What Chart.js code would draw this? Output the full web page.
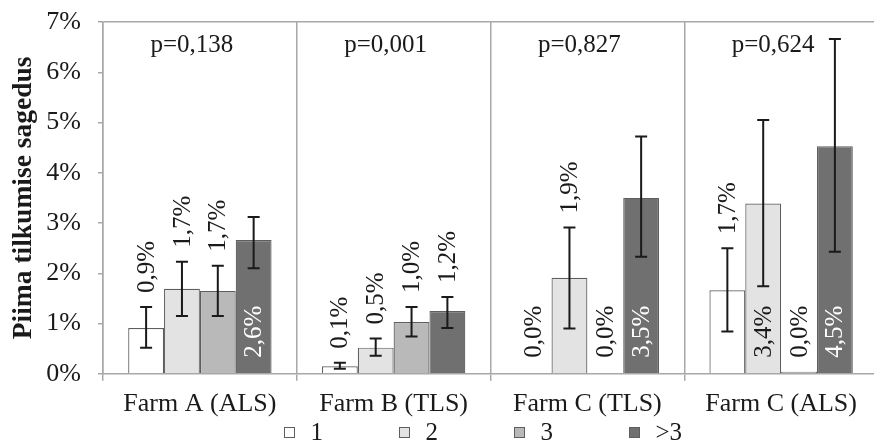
<!DOCTYPE html>
<html>
<head>
<meta charset="utf-8">
<script src="https://cdn.jsdelivr.net/npm/chart.js"></script>
<style>
  html, body { margin: 0; padding: 0; background: #fff; overflow: hidden; }
  #wrap { width: 878px; height: 445px; position: relative; }
</style>
</head>
<body>
<div id="wrap"><canvas id="chart"></canvas></div>
<script>
// Data (values in %)
const categories = ['Farm A (ALS)', 'Farm B (TLS)', 'Farm C (TLS)', 'Farm C (ALS)'];
const seriesNames = ['1', '2', '3', '>3'];
const yTicks = [0, 1, 2, 3, 4, 5, 6, 7];
const pValues = ['p=0,138', 'p=0,001', 'p=0,827', 'p=0,624'];

const vals1 = [0.91, 0.15, 0, 1.66];
const vals2 = [1.69, 0.52, 1.91, 3.39];
const vals3 = [1.65, 1.03, 0, 0.04];
const vals4 = [2.66, 1.25, 3.50, 4.53];

// error bar ends
const low1 = [0.52, 0.10, null, 0.84];
const high1 = [1.33, 0.22, null, 2.50];
const low2 = [1.15, 0.36, 0.90, 1.74];
const high2 = [2.23, 0.70, 2.91, 5.05];
const low3 = [1.15, 0.74, null, null];
const high3 = [2.15, 1.33, null, null];
const low4 = [2.10, 0.91, 2.33, 2.43];
const high4 = [3.12, 1.53, 4.72, 6.66];

// value labels as printed
const labels1 = ['0,9%', '0,1%', '0,0%', '1,7%'];
const labels2 = ['1,7%', '0,5%', '1,9%', '3,4%'];
const labels3 = ['1,7%', '1,0%', '0,0%', '0,0%'];
const labels4 = ['2,6%', '1,2%', '3,5%', '4,5%'];
// where each label sits: above the error bar or inside near the base
const place1 = ['out', 'out', 'in', 'out'];
const place2 = ['out', 'out', 'out', 'in'];
const place3 = ['out', 'out', 'in', 'in'];
const place4 = ['in', 'out', 'in', 'in'];

const fills = ['#ffffff', '#e3e3e3', '#b9b9b9', '#707070'];
const axisGray = '#a8a8a8';
const ink = '#1a1a1a';
const serif = "'Liberation Serif', 'Times New Roman', serif";

const allVals = [vals1, vals2, vals3, vals4];
const allLow = [low1, low2, low3, low4];
const allHigh = [high1, high2, high3, high4];
const allLabels = [labels1, labels2, labels3, labels4];
const allPlace = [place1, place2, place3, place4];

// error bars + rotated value labels + p-values + legend row
const extrasPlugin = {
    id: 'extras',
    afterDatasetsDraw(chart) {
        const ctx = chart.ctx;
        const y = chart.scales.y;
        const x = chart.scales.x;
        const area = chart.chartArea;

        ctx.save();
        // error bars
        ctx.strokeStyle = ink;
        ctx.lineWidth = 2;
        allVals.forEach((vals, di) => {
            const meta = chart.getDatasetMeta(di);
            meta.data.forEach((bar, i) => {
                const lo = allLow[di][i], hi = allHigh[di][i];
                if (lo === null || hi === null) return;
                const yl = y.getPixelForValue(lo), yh = y.getPixelForValue(hi);
                ctx.beginPath();
                ctx.moveTo(bar.x, yl); ctx.lineTo(bar.x, yh);
                ctx.moveTo(bar.x - 6, yl); ctx.lineTo(bar.x + 6, yl);
                ctx.moveTo(bar.x - 6, yh); ctx.lineTo(bar.x + 6, yh);
                ctx.stroke();
            });
        });

        // value labels, rotated
        ctx.font = '25px ' + serif;
        ctx.textBaseline = 'middle';
        ctx.textAlign = 'left';
        allVals.forEach((vals, di) => {
            const meta = chart.getDatasetMeta(di);
            meta.data.forEach((bar, i) => {
                const where = allPlace[di][i];
                let startY;
                if (where === 'out') {
                    const top = allHigh[di][i] !== null ? allHigh[di][i] : vals[i];
                    startY = y.getPixelForValue(top) - 14;
                } else {
                    startY = y.getPixelForValue(0) - 16;
                }
                ctx.save();
                ctx.translate(bar.x, startY);
                ctx.rotate(-Math.PI / 2);
                ctx.fillStyle = (where === 'in' && di === 3) ? '#ffffff' : ink;
                ctx.fillText(allLabels[di][i], 0, 1);
                ctx.restore();
            });
        });

        // p-values
        ctx.fillStyle = ink;
        ctx.textAlign = 'center';
        ctx.textBaseline = 'alphabetic';
        pValues.forEach((p, i) => {
            ctx.fillText(p, x.getPixelForValue(i) - 8, area.top + 30);
        });

        // legend
        const mid = (area.left + area.right) / 2 - 7;
        const start = mid - 200;
        ctx.textAlign = 'left';
        ctx.textBaseline = 'middle';
        ctx.lineWidth = 1;
        seriesNames.forEach((name, di) => {
            const bx = Math.round(start + di * 115) + 0.5;
            ctx.fillStyle = fills[di];
            ctx.fillRect(bx, 427.5, 10, 10);
            ctx.strokeStyle = '#5e5e5e';
            ctx.strokeRect(bx, 427.5, 10, 10);
            ctx.fillStyle = ink;
            ctx.fillText(name, bx + 26, 433);
        });
        ctx.restore();
    }
};

const datasets = seriesNames.map((name, di) => ({
    label: name,
    data: allVals[di],
    backgroundColor: fills[di],
    borderColor: '#5e5e5e',
    borderWidth: 1.2,
    barPercentage: 1,
    categoryPercentage: 0.74
}));

new Chart(document.getElementById('chart'), {
    type: 'bar',
    data: { labels: categories, datasets: datasets },
    plugins: [extrasPlugin],
    options: {
        responsive: true,
        maintainAspectRatio: false,
        animation: false,
        layout: { padding: { top: 22, left: 7, right: 0, bottom: 17 } },
        plugins: {
            tooltip: { enabled: false },
            legend: { display: false }
        },
        scales: {
            x: {
                grid: {
                    offset: true,
                    color: axisGray,
                    lineWidth: 1.5,
                    tickLength: 7
                },
                border: { color: axisGray, width: 1.5 },
                ticks: {
                    color: ink,
                    padding: 8,
                    font: { family: serif, size: 26 }
                }
            },
            y: {
                min: 0,
                max: 7,
                afterBuildTicks: axis => { axis.ticks = yTicks.map(v => ({ value: v })); },
                afterFit: axis => {
                    axis.width = 96;
                    axis.paddingTop = 0;
                    axis.paddingBottom = 0;
                },
                grid: {
                    color: c => (c.tick && c.tick.value === 7) ? axisGray : 'rgba(0,0,0,0)',
                    tickColor: axisGray,
                    lineWidth: 1.5,
                    tickLength: 5
                },
                border: { color: axisGray, width: 1.5 },
                ticks: {
                    color: ink,
                    padding: 17,
                    font: { family: serif, size: 26 },
                    callback: v => v + '%'
                },
                title: {
                    display: true,
                    text: 'Piima tilkumise sagedus',
                    color: ink,
                    padding: { top: 0, bottom: 0 },
                    font: { family: serif, size: 27.5, weight: 'bold' }
                }
            }
        }
    }
});
</script>
</body>
</html>
